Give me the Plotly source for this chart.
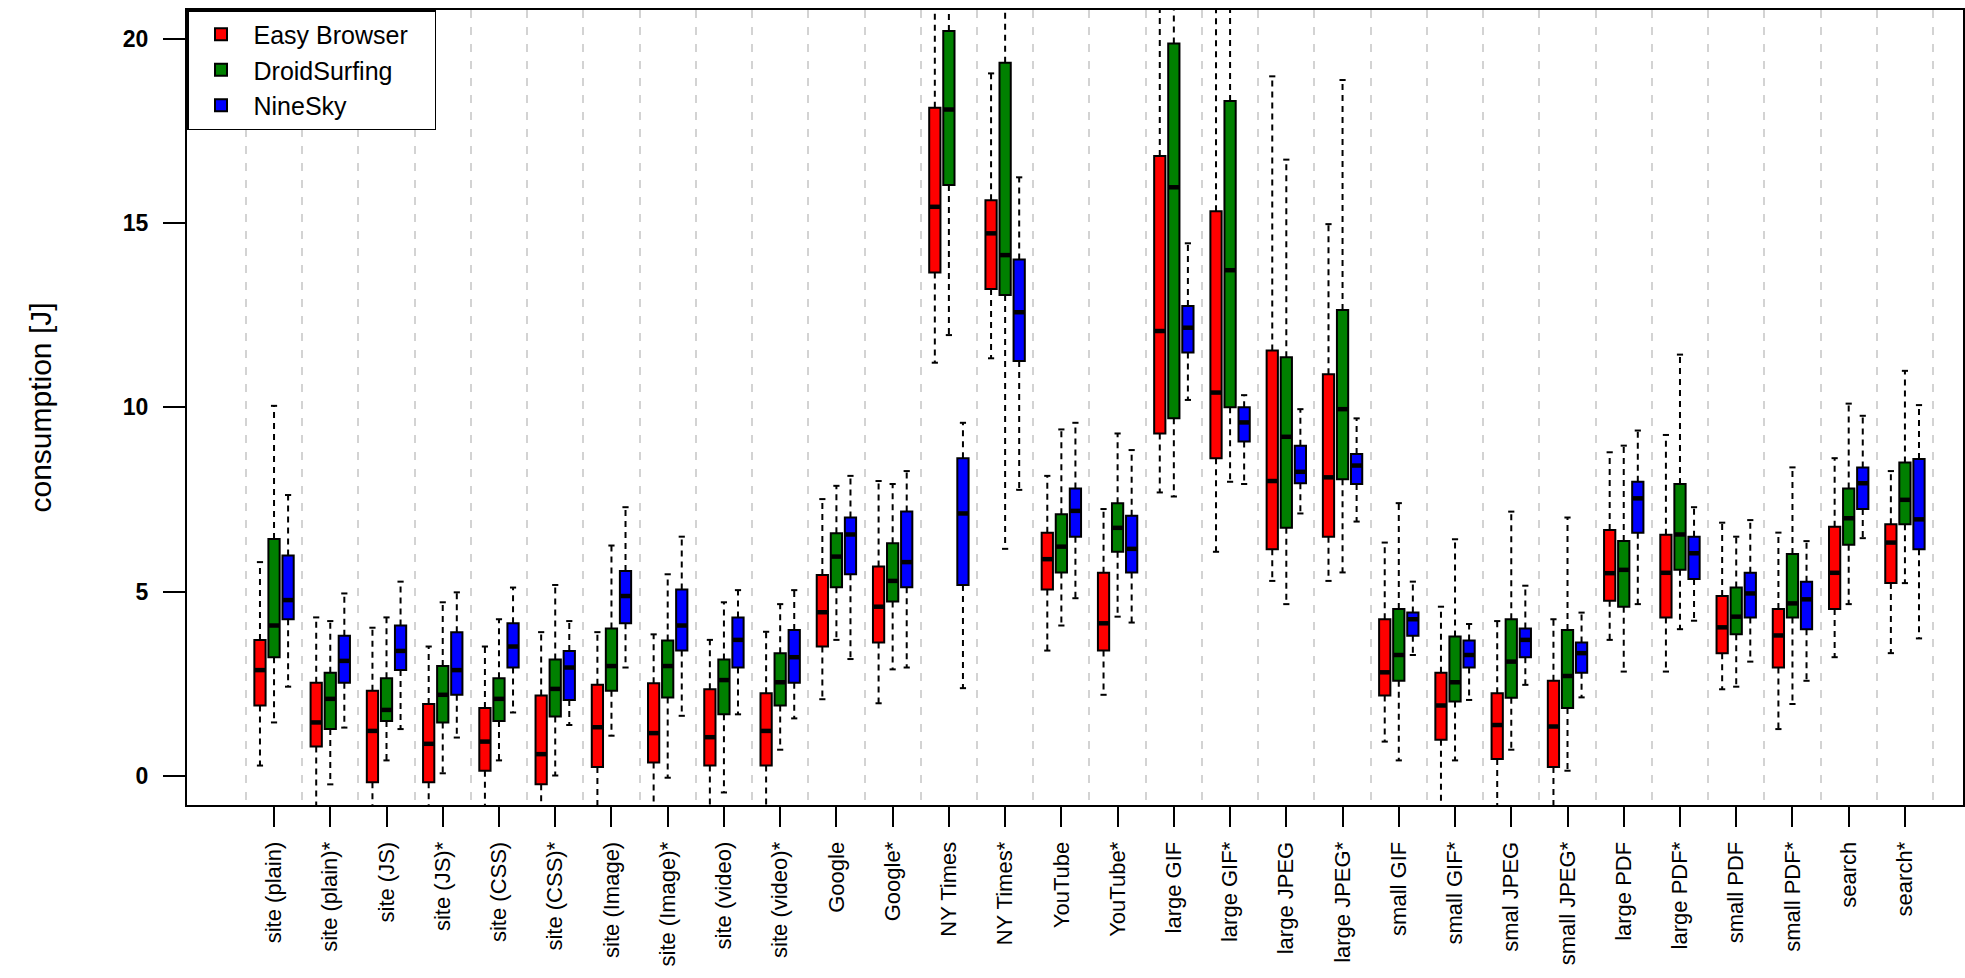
import plotly.graph_objects as go

# ---------------- data ----------------
categories = ["site (plain)", "site (plain)*", "site (JS)", "site (JS)*", "site (CSS)", "site (CSS)*",
              "site (Image)", "site (Image)*", "site (video)", "site (video)*", "Google", "Google*",
              "NY Times", "NY Times*", "YouTube", "YouTube*", "large GIF", "large GIF*",
              "large JPEG", "large JPEG*", "small GIF", "small GIF*", "smal JPEG", "small JPEG*",
              "large PDF", "large PDF*", "small PDF", "small PDF*", "search", "search*"]

series_names = ["Easy Browser", "DroidSurfing", "NineSky"]

# (lower whisker, q1, median, q3, upper whisker) per category
easy_low = [0.28, -1.0, -1.0, -1.0, -1.0, -1.0, -1.0, -1.0, -1.0, -1.0, 2.08, 1.97, 11.21, 11.33, 3.40,
            2.20, 7.69, 6.08, 5.29, 5.29, 0.93, -1.0, -1.0, -1.0, 3.69, 2.83, 2.35, 1.27, 3.22, 3.33]
easy_q1 = [1.91, 0.80, -0.17, -0.17, 0.14, -0.23, 0.24, 0.36, 0.28, 0.28, 3.51, 3.62, 13.66, 13.21, 5.06,
           3.40, 9.29, 8.62, 6.15, 6.49, 2.18, 0.98, 0.46, 0.24, 4.75, 4.30, 3.33, 2.94, 4.53, 5.23]
easy_med = [2.87, 1.45, 1.22, 0.87, 0.93, 0.59, 1.32, 1.16, 1.05, 1.22, 4.44, 4.59, 15.44, 14.72, 5.88,
            4.14, 12.07, 10.40, 8.00, 8.10, 2.81, 1.91, 1.38, 1.34, 5.50, 5.51, 4.03, 3.81, 5.51, 6.33]
easy_q3 = [3.69, 2.53, 2.31, 1.95, 1.84, 2.18, 2.47, 2.51, 2.35, 2.24, 5.45, 5.68, 18.13, 15.62, 6.60,
           5.51, 16.82, 15.32, 11.54, 10.90, 4.25, 2.80, 2.24, 2.58, 6.67, 6.54, 4.88, 4.53, 6.76, 6.83]
easy_high = [5.80, 4.30, 4.02, 3.51, 3.51, 3.90, 3.90, 3.84, 3.69, 3.91, 7.51, 8.00, 22.0, 19.06, 8.14,
             7.24, 22.0, 22.0, 18.98, 14.97, 6.33, 4.59, 4.20, 4.25, 8.78, 9.25, 6.87, 6.60, 8.62, 8.27]

droid_low = [1.45, -0.23, 0.42, 0.07, 0.42, 0.01, 1.09, -0.05, -0.45, 0.71, 3.69, 2.89, 11.96, 6.16, 4.08,
             4.32, 7.58, 7.98, 4.66, 5.52, 0.42, 0.42, 0.71, 0.14, 2.83, 3.98, 2.42, 1.95, 4.66, 5.23]
droid_q1 = [3.22, 1.27, 1.49, 1.45, 1.49, 1.61, 2.31, 2.13, 1.67, 1.91, 5.12, 4.73, 16.03, 13.05, 5.52,
            6.08, 9.70, 10.00, 6.73, 8.05, 2.58, 2.02, 2.12, 1.84, 4.59, 5.59, 3.84, 4.30, 6.27, 6.83]
droid_med = [4.08, 2.09, 1.79, 2.20, 2.09, 2.36, 2.98, 2.98, 2.60, 2.54, 5.95, 5.29, 18.08, 14.13, 6.22,
             6.73, 15.97, 13.72, 9.20, 9.95, 3.28, 2.54, 3.10, 2.71, 5.59, 6.55, 4.32, 4.68, 6.99, 7.49]
droid_q3 = [6.43, 2.80, 2.65, 2.98, 2.65, 3.16, 4.00, 3.67, 3.16, 3.33, 6.58, 6.31, 20.21, 19.35, 7.10,
            7.40, 19.87, 18.31, 11.36, 12.64, 4.53, 3.78, 4.25, 3.96, 6.37, 7.92, 5.11, 6.02, 7.80, 8.50]
droid_high = [10.04, 4.20, 4.30, 4.71, 4.25, 5.18, 6.25, 5.47, 4.71, 4.66, 7.87, 7.92, 22.5, 22.5, 9.40,
              9.29, 22.5, 22.5, 16.72, 18.88, 7.40, 6.42, 7.17, 7.01, 8.96, 11.43, 6.49, 8.37, 10.10, 10.99]

nine_low = [2.42, 1.31, 1.27, 1.04, 1.72, 1.38, 2.94, 1.63, 1.67, 1.56, 3.17, 2.94, 2.38, 7.76, 4.82,
            4.16, 10.20, 7.92, 7.12, 6.90, 3.28, 2.06, 2.47, 2.13, 4.66, 4.21, 3.10, 2.58, 6.45, 3.73]
nine_q1 = [4.25, 2.53, 2.87, 2.20, 2.94, 2.06, 4.14, 3.40, 2.94, 2.53, 5.47, 5.12, 5.18, 11.26, 6.49,
           5.52, 11.49, 9.07, 7.94, 7.92, 3.80, 2.94, 3.22, 2.80, 6.60, 5.34, 4.30, 3.98, 7.24, 6.15]
nine_med = [4.77, 3.12, 3.39, 2.87, 3.51, 2.94, 4.88, 4.08, 3.69, 3.22, 6.55, 5.80, 7.12, 12.58, 7.19,
            6.16, 12.16, 9.59, 8.25, 8.42, 4.25, 3.28, 3.69, 3.33, 7.53, 6.04, 4.95, 4.79, 7.94, 6.96]
nine_q3 = [5.98, 3.80, 4.08, 3.90, 4.14, 3.39, 5.56, 5.06, 4.30, 3.96, 7.01, 7.17, 8.62, 14.01, 7.80,
           7.06, 12.75, 10.00, 8.96, 8.73, 4.43, 3.67, 4.00, 3.62, 7.98, 6.49, 5.51, 5.27, 8.37, 8.60]
nine_high = [7.62, 4.95, 5.27, 4.98, 5.11, 4.20, 7.29, 6.49, 5.04, 5.04, 8.14, 8.27, 9.58, 16.24, 9.58,
             8.84, 14.45, 10.33, 9.95, 9.70, 5.27, 4.12, 5.16, 4.43, 9.37, 7.29, 6.94, 6.37, 9.77, 10.06]

y_ticks = [0, 5, 10, 15, 20]

# ---------------- styling ----------------
colors = ["#FF0000", "#008000", "#0000FF"]
FONT = "Liberation Sans, Arial, Helvetica, sans-serif"
BOX_W = 0.8
CAP_HALF = 0.22
MED_HALF = BOX_W / 2
LEGEND_PAD = "\u00a0\u00a0\u00a0"  # keeps the legend frame as wide as in the reference

all_series = [
    (easy_low, easy_q1, easy_med, easy_q3, easy_high),
    (droid_low, droid_q1, droid_med, droid_q3, droid_high),
    (nine_low, nine_q1, nine_med, nine_q3, nine_high),
]

n = len(categories)
fig = go.Figure()

for s, (name, color, (lo, q1, med, q3, hi)) in enumerate(zip(series_names, colors, all_series)):
    xs = [4 * k + 1 + s for k in range(n)]
    wx, wy = [], []
    cx, cy = [], []
    mx, my = [], []
    for x, a, b, c, d, e in zip(xs, lo, q1, med, q3, hi):
        wx += [x, x, None, x, x, None]
        wy += [d, e, None, b, a, None]
        cx += [x - CAP_HALF, x + CAP_HALF, None, x - CAP_HALF, x + CAP_HALF, None]
        cy += [e, e, None, a, a, None]
    fig.add_trace(go.Scatter(x=wx, y=wy, mode="lines", showlegend=False, hoverinfo="skip",
                             line=dict(color="black", width=2, dash="6px,5px")))
    fig.add_trace(go.Scatter(x=cx, y=cy, mode="lines", showlegend=False, hoverinfo="skip",
                             line=dict(color="black", width=2)))
    fig.add_trace(go.Box(
        name=name + (LEGEND_PAD if s == 0 else ""), x=xs, q1=q1, median=med, q3=q3,
        lowerfence=q1, upperfence=q3,
        width=BOX_W, whiskerwidth=0, fillcolor=color,
        line=dict(color="black", width=2), boxpoints=False,
    ))
    for x, c in zip(xs, med):
        mx += [x - MED_HALF, x + MED_HALF, None]
        my += [c, c, None]
    fig.add_trace(go.Scatter(x=mx, y=my, mode="lines", showlegend=False, hoverinfo="skip",
                             line=dict(color="black", width=4.5)))

centers = [4 * k + 2 for k in range(n)]
separators = [4 * k for k in range(n + 1)]

fig.update_layout(
    width=1965, height=978,
    margin=dict(l=187, r=2, t=10, b=173),
    paper_bgcolor="white", plot_bgcolor="white",
    boxmode="overlay",
    font=dict(family=FONT, color="black"),
    legend=dict(x=0, y=1, xanchor="left", yanchor="top", bgcolor="white",
                bordercolor="black", borderwidth=1.5, font=dict(size=25, family=FONT),
                traceorder="normal", itemwidth=55),
    xaxis=dict(
        range=[-4.19, 122.13], showline=True, linecolor="black", linewidth=2, mirror=True,
        ticks="outside", ticklen=20, tickwidth=2, tickcolor="black",
        tickmode="array", tickvals=centers, ticktext=categories, tickangle=-90,
        tickfont=dict(size=22, family=FONT), ticklabelstandoff=6, automargin=False,
        showgrid=False, zeroline=False,
        minor=dict(tickmode="array", tickvals=separators, showgrid=True, gridcolor="#d3d3d3",
                   griddash="8px,9px", gridwidth=2, ticks=""),
    ),
    yaxis=dict(
        range=[-0.79, 20.78], showline=True, linecolor="black", linewidth=2, mirror=True,
        ticks="outside", ticklen=22, tickwidth=2, tickcolor="black",
        tickmode="array", tickvals=y_ticks, automargin=False,
        tickfont=dict(size=23, family=FONT, weight="bold"), ticklabelstandoff=10,
        showgrid=False, zeroline=False,
        title=dict(text="consumption [J]", font=dict(size=30, family=FONT), standoff=62),
    ),
)

fig.write_html("out.html")
